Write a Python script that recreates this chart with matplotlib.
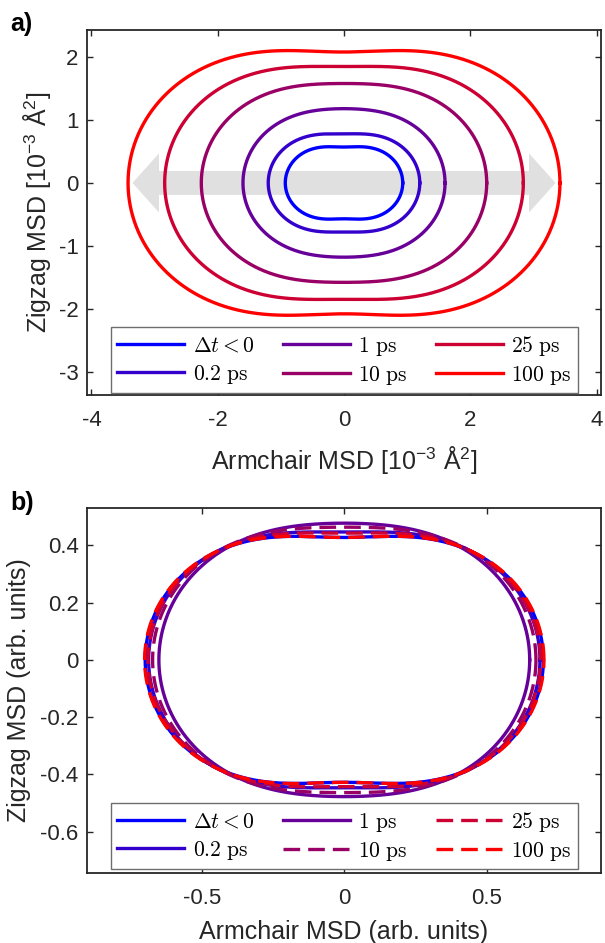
import numpy as np
import matplotlib
matplotlib.use("Agg")
import matplotlib.pyplot as plt
from matplotlib.patches import Polygon
from matplotlib.font_manager import FontProperties

plt.rcParams['font.family'] = ['Liberation Sans', 'DejaVu Sans']
plt.rcParams['mathtext.fontset'] = 'custom'
plt.rcParams['mathtext.rm'] = 'Liberation Sans'
plt.rcParams['mathtext.it'] = 'Liberation Sans:italic'
plt.rcParams['mathtext.bf'] = 'Liberation Sans:bold'
plt.rcParams['axes.unicode_minus'] = False

# ---------------- data ----------------
labels = [r'$\Delta t < 0$', r'$\mathrm{0.2\ ps}$', r'$\mathrm{1\ ps}$',
          r'$\mathrm{10\ ps}$', r'$\mathrm{25\ ps}$', r'$\mathrm{100\ ps}$']
colors = ['#0000FF', '#3300CC', '#660099', '#990066', '#CC0033', '#FF0000']

# panel a: armchair / zigzag MSD [1e-3 A^2]
msd_ac_a = [0.93, 1.20, 1.60, 2.26, 2.84, 3.42]
msd_zz_a = [0.57, 0.78, 1.18, 1.58, 1.85, 2.08]

# panel b: normalised (arb. units)
msd_ac_b = [0.698, 0.686, 0.650, 0.672, 0.688, 0.700]
msd_zz_b = [0.428, 0.447, 0.478, 0.464, 0.443, 0.428]
styles_b = ['-', '-', '-', '--', '--', '--']

xticks_a = [-4, -2, 0, 2, 4]
yticks_a = [-3, -2, -1, 0, 1, 2]
xticks_b = [-0.5, 0, 0.5]
yticks_b = [-0.6, -0.4, -0.2, 0, 0.2, 0.4]

# arrow (annotation) geometry in data units
arrow_tip = 3.35
arrow_head_len = 0.42
arrow_head_half = 0.47
arrow_shaft_half = 0.19

theta = np.linspace(0, 2 * np.pi, 1441)


def polar_msd(a, b):
    r = a * np.cos(theta) ** 2 + b * np.sin(theta) ** 2
    return r * np.cos(theta), r * np.sin(theta)


W, H = 605, 943
fig = plt.figure(figsize=(W / 100, H / 100), dpi=100)

def px_axes(x0, x1, ytop, ybot):
    return fig.add_axes([x0 / W, 1 - ybot / H, (x1 - x0) / W, (ybot - ytop) / H])

ax_a = px_axes(87, 601, 30, 395)
ax_b = px_axes(87, 601, 508, 872.7)

axcol = '#262626'
LW = 2.4
for ax in (ax_a, ax_b):
    for s in ax.spines.values():
        s.set_color(axcol)
        s.set_linewidth(1.3)
    ax.tick_params(direction='in', top=True, right=True, length=4.3, width=1.0,
                   colors=axcol, labelsize=16, labelcolor=axcol)
    ax.tick_params(axis='x', pad=11)
    ax.tick_params(axis='y', pad=6)

# ----- panel a -----
t, hl, hh, sh = arrow_tip, arrow_head_len, arrow_head_half, arrow_shaft_half
arrow = Polygon([(-t, 0), (-t + hl, hh), (-t + hl, sh), (t - hl, sh), (t - hl, hh),
                 (t, 0), (t - hl, -hh), (t - hl, -sh), (-t + hl, -sh), (-t + hl, -hh)],
                closed=True, facecolor='#E0E0E0', edgecolor='none', zorder=1)
ax_a.add_patch(arrow)
for a, b, c, lab in zip(msd_ac_a, msd_zz_a, colors, labels):
    x, y = polar_msd(a, b)
    ax_a.plot(x, y, color=c, lw=LW, label=lab, zorder=2)
ax_a.set_xlim(-4.07, 4.07)
ax_a.set_ylim(-3.37, 2.43)
ax_a.set_xticks(xticks_a)
ax_a.set_yticks(yticks_a)
ax_a.set_xticklabels([str(v) for v in xticks_a])
ax_a.set_yticklabels([str(v) for v in yticks_a])
ax_a.set_xlabel(r'Armchair MSD [10$^{\mathrm{-3}}$ Å$^{\mathrm{2}}$]', fontsize=18, color=axcol)
ax_a.set_ylabel(r'Zigzag MSD [10$^{\mathrm{-3}}$ Å$^{\mathrm{2}}$]', fontsize=18, color=axcol)

# ----- panel b -----
for a, b, c, ls, lab in zip(msd_ac_b, msd_zz_b, colors, styles_b, labels):
    x, y = polar_msd(a, b)
    if ls == '--':
        ax_b.plot(x, y, color=c, lw=LW, label=lab, dashes=(5.0, 2.4))
    else:
        ax_b.plot(x, y, color=c, lw=LW, label=lab)
ax_b.set_xlim(-0.902, 0.900)
ax_b.set_ylim(-0.744, 0.531)
ax_b.set_xticks(xticks_b)
ax_b.set_yticks(yticks_b)
ax_b.set_xticklabels(['-0.5', '0', '0.5'])
ax_b.set_yticklabels(['-0.6', '-0.4', '-0.2', '0', '0.2', '0.4'])
ax_b.set_xlabel('Armchair MSD (arb. units)', fontsize=18, color=axcol)
ax_b.set_ylabel('Zigzag MSD (arb. units)', fontsize=18, color=axcol)

# label positions
ax_a.xaxis.set_label_coords(0.5, -0.178)
ax_a.xaxis.label.set_va('center')
ax_a.yaxis.set_label_coords(-0.097, 0.5)
ax_a.yaxis.label.set_va('center')
ax_b.xaxis.set_label_coords(0.5, -0.162)
ax_b.xaxis.label.set_va('center')
ax_b.yaxis.set_label_coords(-0.132, 0.5)
ax_b.yaxis.label.set_va('center')

# legends
lp = FontProperties(family=['Liberation Serif', 'DejaVu Serif'], size=15.5, math_fontfamily='cm')
for ax, y0, y1 in ((ax_a, 0.027, 0.185), (ax_b, 0.033, 0.191)):
    leg = ax.legend(loc='upper left', ncol=3, mode='expand', prop=lp,
                    bbox_to_anchor=(0.0467, y0, 0.955 - 0.0467, y1 - y0),
                    borderaxespad=0, handlelength=3.1, handletextpad=0.4,
                    labelspacing=0.28, borderpad=0.3, fancybox=False,
                    framealpha=1, edgecolor='#6E6E6E')
    leg.get_frame().set_linewidth(1.0)

fig.text(10 / W, 1 - 24 / H, 'a)', fontsize=18, fontweight='bold', va='center', ha='left')
fig.text(10 / W, 1 - 503 / H, 'b)', fontsize=18, fontweight='bold', va='center', ha='left')

fig.savefig('out.png', dpi=100)
